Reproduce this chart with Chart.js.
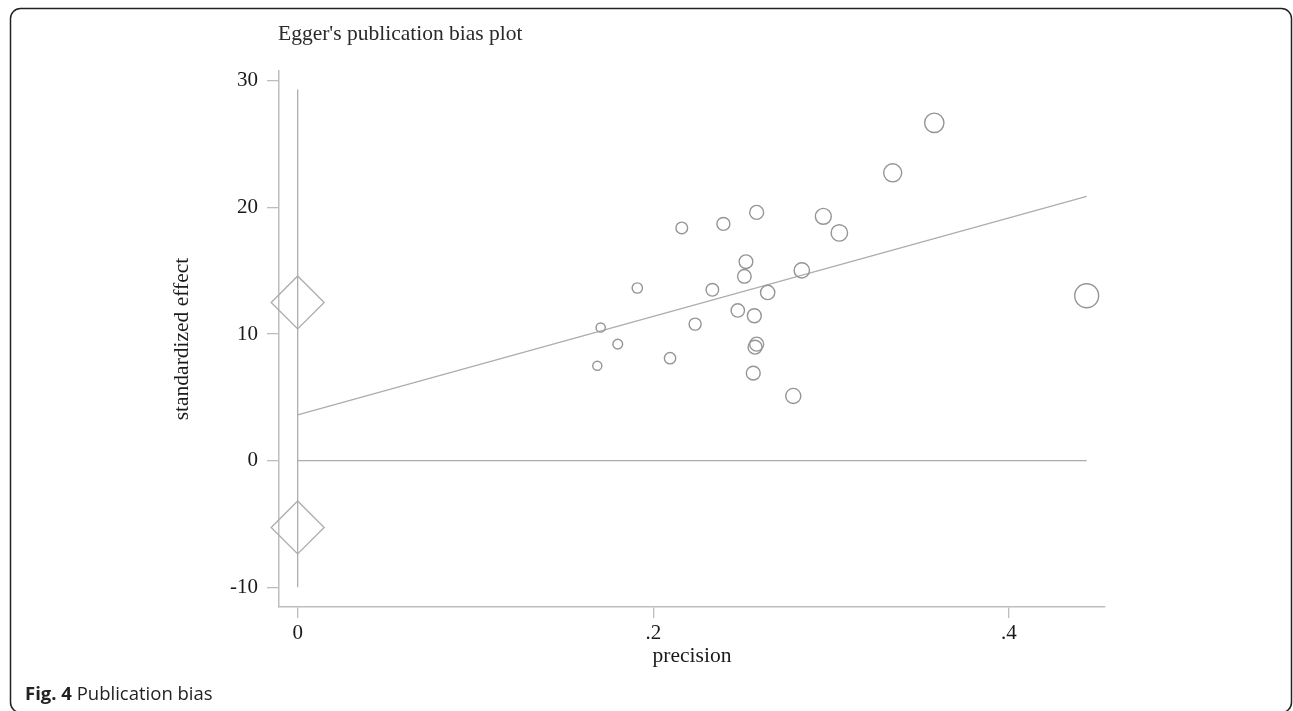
<!DOCTYPE html>
<html>
<head>
<meta charset="utf-8">
<script src="https://cdn.jsdelivr.net/npm/chart.js@4.4.0/dist/chart.umd.min.js"></script>
<style>
  html, body { margin: 0; padding: 0; background: #fff; }
  #wrap { position: relative; width: 1293px; height: 711px; }
</style>
</head>
<body>
<div id="wrap"><canvas id="myChart" width="1293" height="711"></canvas></div>
<script>
// studies: precision (1/se) and standardized effect
const precision = [0.2160, 0.2394, 0.2581, 0.2956, 0.3046, 0.2521, 0.2512, 0.2835, 0.1910,
                   0.2332, 0.2643, 0.2475, 0.2568, 0.1704, 0.2235, 0.1800, 0.2581, 0.2572,
                   0.2094, 0.1685, 0.2562, 0.2787, 0.3580, 0.3346, 0.4437];
const stdEffect = [18.37, 18.69, 19.60, 19.29, 17.98, 15.71, 14.55, 15.02, 13.63,
                   13.49, 13.28, 11.86, 11.44, 10.51, 10.78, 9.20, 9.20, 8.96,
                   8.09, 7.49, 6.91, 5.11, 26.67, 22.72, 13.02];

// Egger regression line
const fitX = [0, 0.4437];
const fitY = [3.61, 20.87];

// diamonds at precision 0
const diamondY = [12.49, -5.27];

// reference lines
const vLineY = [-10, 29.3];
const hLineX = [0, 0.4437];

const xTicks = [0, 0.2, 0.4];
const xTickLabels = ['0', '.2', '.4'];
const yTicks = [-10, 0, 10, 20, 30];

const serif = '"Liberation Serif", "Times New Roman", serif';
const lineGray = '#adadad';
const axisGray = '#bdbdbd';
const textColor = '#1a1a1a';

const decorations = {
    id: 'decorations',
    beforeDraw(chart) {
        const c = chart.ctx;
        c.save();
        c.fillStyle = '#fff';
        c.fillRect(0, 0, chart.width, chart.height);
        c.strokeStyle = '#222';
        c.lineWidth = 1.5;
        c.beginPath();
        c.roundRect(10.5, 8.5, 1281, 704, 10);
        c.stroke();
        c.restore();
    },
    afterDraw(chart) {
        const c = chart.ctx;
        const area = chart.chartArea;
        c.save();
        c.fillStyle = '#2a2a2a';
        c.font = '21.5px ' + serif;
        c.textBaseline = 'alphabetic';
        c.textAlign = 'left';
        c.fillText("Egger's publication bias plot", 278, 40);

        c.fillStyle = textColor;
        c.textAlign = 'center';
        c.fillText('precision', (area.left + area.right) / 2, 662);

        c.translate(188, (area.top + area.bottom) / 2);
        c.rotate(-Math.PI / 2);
        c.fillText('standardized effect', 0, 0);
        c.restore();

        // caption under the figure
        c.save();
        c.fillStyle = '#222';
        c.textBaseline = 'alphabetic';
        c.font = 'bold 18.5px "Open Sans", "Noto Sans", sans-serif';
        c.fillText('Fig. 4', 25, 700);
        const w = c.measureText('Fig. 4 ').width;
        c.font = '18.5px "Open Sans", "Noto Sans", sans-serif';
        c.fillText('Publication bias', 25 + w, 700);
        c.restore();
    }
};

const ctx = document.getElementById('myChart').getContext('2d');
const myChart = new Chart(ctx, {
    type: 'scatter',
    data: {
        datasets: [
            {
                label: 'studies',
                data: precision.map((p, i) => ({ x: p, y: stdEffect[i] })),
                pointStyle: 'circle',
                pointRadius: function(context) {
                    const v = context.raw ? context.raw.x : 0.2;
                    return 27 * v; // marker size grows with precision
                },
                pointHoverRadius: function(context) {
                    const v = context.raw ? context.raw.x : 0.2;
                    return 27 * v;
                },
                borderColor: '#959595',
                backgroundColor: 'rgba(0,0,0,0)',
                borderWidth: 1.4,
                order: 0
            },
            {
                label: 'fit',
                type: 'line',
                data: fitX.map((x, i) => ({ x: x, y: fitY[i] })),
                borderColor: lineGray,
                borderWidth: 1.3,
                pointRadius: 0,
                fill: false,
                order: 1
            },
            {
                label: 'zero',
                type: 'line',
                data: hLineX.map(x => ({ x: x, y: 0 })),
                borderColor: lineGray,
                borderWidth: 1.3,
                pointRadius: 0,
                fill: false,
                order: 1
            },
            {
                label: 'vertical',
                type: 'line',
                data: vLineY.map(y => ({ x: 0, y: y })),
                borderColor: lineGray,
                borderWidth: 1.3,
                pointRadius: 0,
                fill: false,
                order: 1
            },
            {
                label: 'diamonds',
                data: diamondY.map(y => ({ x: 0, y: y })),
                pointStyle: 'rectRot',
                pointRadius: 26.5,
                pointHoverRadius: 26.5,
                borderColor: lineGray,
                backgroundColor: 'rgba(0,0,0,0)',
                borderWidth: 1.3,
                clip: false,
                order: 1
            }
        ]
    },
    options: {
        responsive: false,
        animation: false,
        events: [],
        layout: {
            padding: { left: 0, top: 71, right: 188, bottom: 0 }
        },
        scales: {
            x: {
                type: 'linear',
                min: -0.0105,
                max: 0.454,
                afterFit: function(scale) { scale.height = 104; },
                afterBuildTicks: function(scale) {
                    scale.ticks = xTicks.map(v => ({ value: v }));
                },
                border: { display: true, color: axisGray, width: 1.5 },
                grid: { drawOnChartArea: false, drawTicks: true, tickLength: 11, color: axisGray, lineWidth: 1.3 },
                ticks: {
                    padding: 3,
                    color: textColor,
                    font: { family: serif, size: 21 },
                    maxRotation: 0,
                    callback: function(value) {
                        const i = xTicks.indexOf(value);
                        return i >= 0 ? xTickLabels[i] : '';
                    }
                }
            },
            y: {
                type: 'linear',
                min: -11.55,
                max: 30.76,
                afterFit: function(scale) { scale.width = 279; },
                afterBuildTicks: function(scale) {
                    scale.ticks = yTicks.map(v => ({ value: v }));
                },
                border: { display: true, color: axisGray, width: 1.5 },
                grid: { drawOnChartArea: false, drawTicks: true, tickLength: 12, color: axisGray, lineWidth: 1.3 },
                ticks: {
                    padding: 9,
                    color: textColor,
                    font: { family: serif, size: 21 }
                }
            }
        },
        plugins: {
            legend: { display: false },
            tooltip: { enabled: false },
            title: { display: false }
        }
    },
    plugins: [decorations]
});
</script>
</body>
</html>
